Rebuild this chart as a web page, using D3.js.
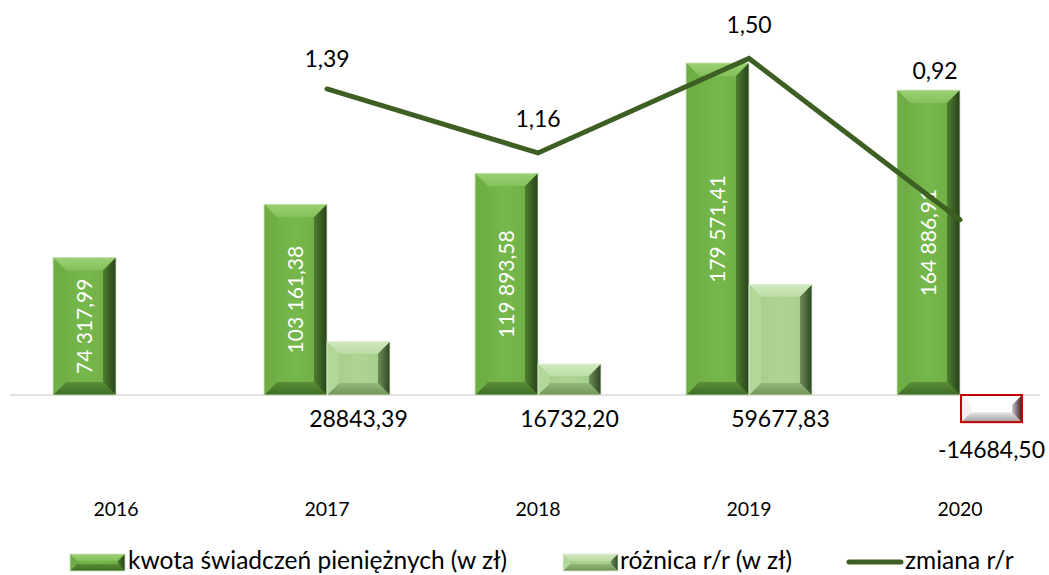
<!DOCTYPE html>
<html><head><meta charset="utf-8">
<script src="https://cdn.jsdelivr.net/npm/d3@7"></script>
<style>
html,body{margin:0;padding:0;background:#fff;}
svg{display:block;font-family:Lato, "Open Sans", sans-serif;}
</style></head>
<body>
<svg id="chart" width="1049" height="575"></svg>
<script>
// ---- data ----
const years = ["2016", "2017", "2018", "2019", "2020"];
const kwota = [74317.99, 103161.38, 119893.58, 179571.41, 164886.91];
const roznica = [null, 28843.39, 16732.20, 59677.83, -14684.50];
const zmiana = [null, 1.39, 1.16, 1.50, 0.92];
const seriesNames = ["kwota świadczeń pieniężnych (w zł)", "różnica r/r (w zł)", "zmiana r/r"];
// label nudges for the line labels (dx, dy relative to the point)
const lineLabelNudge = [null, [0, -22], [0, -26], [0, -25], [-25, -141]];

const svg = d3.select("#chart");
const base = 395;

const loc = d3.formatLocale({decimal: ",", thousands: " ", grouping: [3], currency: ["", ""], minus: "-"});
const fmtBig = loc.format(",.2f");
const fmtDiff = loc.format(".2f");

const x = d3.scaleBand().domain(years).range([10.5, 1065.5]).paddingInner(0.403).paddingOuter(0.2015);
const x1 = d3.scaleBand().domain(["kwota", "roznica"]).range([0, x.bandwidth()]);
const y = d3.scaleLinear().domain([0, 180000]).range([base, base - 180000 * 0.001849]);
const y2 = d3.scaleLinear().domain([0.9, 1.5]).range([225.2, 58.4]);

// ---- gradients ----
const defs = svg.append("defs");
function lin(id, stops, horiz) {
  const g = defs.append("linearGradient").attr("id", id)
    .attr("x1", 0).attr("y1", 0).attr("x2", horiz ? 1 : 0).attr("y2", horiz ? 0 : 1);
  stops.forEach(s => g.append("stop").attr("offset", s[0]).attr("stop-color", s[1]));
}
const styles = {
  main: {face: "gMainFace", top: "gMainTop", left: "#6EAE45", right: "gMainRight", bottom: "gMainBottom", stroke: "#cfe3bd"},
  diff: {face: "gDiffFace", top: "gDiffTop", left: "#B2D899", right: "gDiffRight", bottom: "gDiffBottom", stroke: "#dcebd0"},
  neg:  {face: "#ffffff", top: "#ffffff", left: "#f2f2f2", right: "gNegRight", bottom: "gNegBottom", stroke: "#C00000"}
};
lin("gMainFace", [[0, "#6CAB43"], [0.5, "#77B84C"], [1, "#6CAB43"]], true);
lin("gMainTop", [[0, "#9CD074"], [1, "#84C05A"]], false);
lin("gMainRight", [[0, "#4E7E30"], [1, "#27421A"]], true);
lin("gMainBottom", [[0, "#5A8F37"], [1, "#3F6A26"]], false);
lin("gDiffFace", [[0, "#A4CD88"], [0.5, "#AED493"], [1, "#A4CD88"]], true);
lin("gDiffTop", [[0, "#D0E8BE"], [1, "#BCDDA5"]], false);
lin("gDiffRight", [[0, "#6E8E58"], [1, "#2E4422"]], true);
lin("gDiffBottom", [[0, "#92B977"], [1, "#6E945A"]], false);
lin("gNegRight", [[0, "#C8C8C8"], [1, "#3a1a1a"]], true);
lin("gNegBottom", [[0, "#E6E6E6"], [1, "#A0A0A0"]], false);

function paint(v) { return v.startsWith("#") ? v : `url(#${v})`; }

function bevel(g, bx, by, bw, bh, st, bmax, strokeW) {
  const b = Math.min(bmax, bh / 2.3, bw / 2.3);
  const gg = g.append("g");
  gg.append("rect").attr("x", bx).attr("y", by).attr("width", bw).attr("height", bh).attr("fill", paint(st.face));
  const P = (pts, f) => gg.append("polygon").attr("points", pts.map(p => p.join(",")).join(" ")).attr("fill", paint(f));
  P([[bx, by], [bx + bw, by], [bx + bw - b, by + b], [bx + b, by + b]], st.top);
  P([[bx, by + bh], [bx + bw, by + bh], [bx + bw - b, by + bh - b], [bx + b, by + bh - b]], st.bottom);
  P([[bx, by], [bx + b, by + b], [bx + b, by + bh - b], [bx, by + bh]], st.left);
  P([[bx + bw, by], [bx + bw - b, by + b], [bx + bw - b, by + bh - b], [bx + bw, by + bh]], st.right);
  gg.append("rect").attr("x", bx).attr("y", by).attr("width", bw).attr("height", bh)
    .attr("fill", "none").attr("stroke", st.stroke).attr("stroke-width", strokeW || 0.8);
  return gg;
}

// ---- zero line ----
svg.append("line").attr("x1", 10).attr("x2", 1040).attr("y1", y(0)).attr("y2", y(0))
  .attr("stroke", "#D9D9D9").attr("stroke-width", 1.5);

// ---- bars ----
const barsG = svg.append("g");
years.forEach((yr, i) => {
  const bx = x(yr) + x1("kwota");
  bevel(barsG, bx, y(kwota[i]), x1.bandwidth(), y(0) - y(kwota[i]), styles.main, 13);
});
years.forEach((yr, i) => {
  const v = roznica[i];
  if (v == null) return;
  const bx = x(yr) + x1("roznica");
  const top = Math.min(y(v), y(0)), h = Math.abs(y(v) - y(0));
  if (v >= 0) bevel(barsG, bx, top, x1.bandwidth(), h, styles.diff, 12);
  else bevel(barsG, bx + 1, top, x1.bandwidth() - 2, h, styles.neg, 10, 2);
});

// ---- in-bar labels ----
years.forEach((yr, i) => {
  const cx = x(yr) + x1("kwota") + x1.bandwidth() / 2;
  const cy = (y(kwota[i]) + y(0)) / 2;
  svg.append("text").attr("transform", `translate(${cx},${cy}) rotate(-90)`)
    .attr("text-anchor", "middle").attr("dy", "0.35em")
    .attr("fill", "#fff").attr("font-size", 21).text(fmtBig(kwota[i]));
});

// ---- diff labels ----
years.forEach((yr, i) => {
  const v = roznica[i];
  if (v == null) return;
  const cx = x(yr) + x1("roznica") + x1.bandwidth() / 2;
  const by = v >= 0 ? y(0) + 32 : y(v) + 36;
  svg.append("text").attr("x", cx).attr("y", by).attr("text-anchor", "middle")
    .attr("fill", "#000").attr("font-size", 23).text(fmtDiff(v));
});

// ---- line ----
const line = d3.line().defined(d => d.v != null)
  .x(d => x(d.yr) + x.bandwidth() / 2).y(d => y2(d.v));
const lineData = years.map((yr, i) => ({yr, v: zmiana[i]}));
svg.append("path").datum(lineData).attr("d", line)
  .attr("fill", "none").attr("stroke", "#3E5F23").attr("stroke-width", 5)
  .attr("stroke-linecap", "round").attr("stroke-linejoin", "miter");

lineData.forEach((d, i) => {
  if (d.v == null) return;
  const n = lineLabelNudge[i];
  svg.append("text").attr("x", x(d.yr) + x.bandwidth() / 2 + n[0]).attr("y", y2(d.v) + n[1])
    .attr("text-anchor", "middle").attr("font-size", 23).attr("fill", "#000").text(fmtDiff(d.v));
});

// ---- category axis ----
const ax = svg.append("g").attr("transform", `translate(0,${base})`)
  .call(d3.axisBottom(x).tickSize(0).tickPadding(107));
ax.select(".domain").remove();
ax.selectAll("text").attr("font-size", 19.5).attr("font-family", "Lato, 'Open Sans', sans-serif").attr("fill", "#000");

// ---- legend ----
const leg = svg.append("g");
bevel(leg, 70, 554, 55, 17, styles.main, 7);
leg.append("text").attr("x", 128).attr("y", 569).attr("font-size", 24.5).text(seriesNames[0]);
bevel(leg, 563, 554, 55, 17, styles.diff, 7);
leg.append("text").attr("x", 620).attr("y", 569).attr("font-size", 24.5).text(seriesNames[1]);
leg.append("line").attr("x1", 849).attr("x2", 901).attr("y1", 562).attr("y2", 562)
  .attr("stroke", "#3E5F23").attr("stroke-width", 5).attr("stroke-linecap", "round");
leg.append("text").attr("x", 905).attr("y", 569).attr("font-size", 24.5).text(seriesNames[2]);
</script>
</body></html>
